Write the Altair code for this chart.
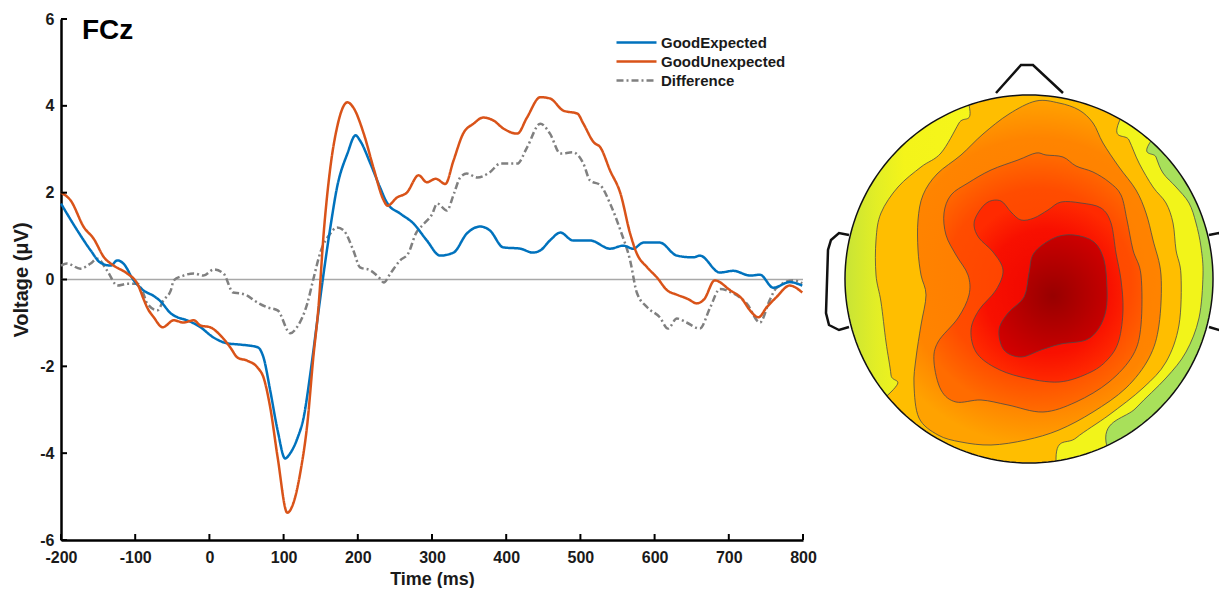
import math
import altair as alt
import pandas as pd

# ---------------- ERP waveforms at FCz (time in ms, voltage in microvolts) ----------------
t_exp = [-200, -178, -160, -147, -133, -124, -116, -102, -89, -75, -66, -52, -43, -30, -12, 5, 24, 42, 65, 73,
         82, 92, 102, 109, 119, 127, 136, 145, 149, 163, 172, 186, 197, 203, 217, 230, 240, 257, 275, 293,
         311, 329, 347, 365, 378, 396, 419, 436, 446, 459, 473, 490, 513, 540, 558, 571, 585, 607, 630, 652,
         661, 688, 706, 729, 742, 760, 782, 799]
v_exp = [1.75, 1.13, 0.67, 0.39, 0.32, 0.44, 0.37, -0.02, -0.25, -0.38, -0.50, -0.78, -0.87, -0.94, -1.10, -1.33, -1.47, -1.50, -1.56, -1.80,
         -2.56, -3.48, -4.12, -4.00, -3.64, -3.18, -2.17, -1.00, -0.48, 1.20, 2.12, 2.90, 3.32, 3.20, 2.67, 2.12, 1.75, 1.52, 1.29, 0.90,
         0.55, 0.62, 1.06, 1.22, 1.13, 0.74, 0.71, 0.62, 0.67, 0.90, 1.08, 0.90, 0.90, 0.71, 0.78, 0.71, 0.85, 0.85, 0.55, 0.51,
         0.55, 0.16, 0.20, 0.09, 0.11, -0.19, -0.06, -0.14]

t_unexp = [-200, -187, -169, -156, -142, -129, -111, -97, -88, -84, -75, -63, -48, -35, -21, -12, 1, 15, 28, 38,
           51, 65, 73, 82, 92, 105, 113, 123, 132, 140, 147, 154, 163, 172, 186, 194, 208, 221, 235, 240,
           253, 266, 282, 293, 305, 318, 329, 342, 356, 369, 383, 396, 415, 428, 446, 459, 477, 496, 504, 518,
           527, 540, 554, 567, 576, 590, 603, 617, 630, 645, 657, 667, 681, 702, 718, 728, 740, 751, 764, 782, 799]
v_unexp = [2.00, 1.82, 1.20, 0.94, 0.51, 0.32, 0.14, -0.10, -0.48, -0.64, -0.87, -1.10, -0.94, -0.99, -0.94, -1.06, -1.10, -1.29, -1.56, -1.80,
           -1.87, -2.03, -2.26, -2.95, -4.10, -5.37, -5.16, -4.40, -3.32, -1.80, -0.64, 1.06, 2.58, 3.50, 4.08, 3.96, 3.36, 2.58, 1.82, 1.70,
           1.89, 2.00, 2.40, 2.24, 2.32, 2.20, 2.74, 3.36, 3.59, 3.73, 3.66, 3.48, 3.36, 3.73, 4.20, 4.17, 3.89, 3.82, 3.59, 3.16,
           3.04, 2.51, 1.98, 1.06, 0.60, 0.28, 0.05, -0.25, -0.35, -0.45, -0.55, -0.45, -0.02, -0.25, -0.45, -0.70, -0.87, -0.64, -0.41, -0.14, -0.30]

t_diff = [-200, -192, -174, -160, -151, -138, -124, -111, -97, -89, -84, -70, -62, -52, -48, -35, -21, -8, 6, 19,
          32, 42, 51, 60, 78, 92, 109, 118, 132, 140, 150, 163, 172, 181, 194, 203, 217, 230, 235, 244,
          257, 268, 278, 290, 300, 307, 320, 330, 338, 347, 361, 378, 392, 415, 428, 446, 459, 473, 490, 504,
          513, 527, 540, 554, 567, 576, 590, 607, 618, 630, 643, 661, 675, 688, 706, 724, 742, 755, 764, 787, 799]
v_diff = [0.32, 0.37, 0.25, 0.37, 0.48, 0.21, -0.14, -0.10, -0.10, -0.32, -0.55, -0.71, -0.48, -0.25, -0.02, 0.09, 0.14, 0.09, 0.23, 0.14,
          -0.30, -0.32, -0.37, -0.48, -0.64, -0.71, -1.24, -1.10, -0.55, 0.00, 0.65, 1.06, 1.20, 1.13, 0.67, 0.28, 0.21, 0.02, -0.07, 0.14,
          0.44, 0.60, 1.05, 1.30, 1.50, 1.75, 1.59, 2.00, 2.35, 2.44, 2.35, 2.47, 2.67, 2.67, 3.04, 3.59, 3.36, 2.90, 2.93, 2.67,
          2.28, 2.17, 1.75, 1.13, 0.44, -0.30, -0.64, -0.87, -1.13, -0.90, -0.99, -1.13, -0.64, -0.22, -0.32, -0.55, -0.99, -0.48, -0.20, -0.02, -0.09]

series_names = ["GoodExpected", "GoodUnexpected", "Difference"]
series_colors = ["#0072BD", "#D95319", "#808080"]
series_dash = [[1, 0], [1, 0], [7, 3, 2, 3]]
series_width = [2.5, 2.5, 2.0]

x_ticks = [-200, -100, 0, 100, 200, 300, 400, 500, 600, 700, 800]
y_ticks = [-6, -4, -2, 0, 2, 4, 6]
channel_label = "FCz"

# ---------------- scalp map: contour lines (offsets from head centre, head radius = 184, y up) ----------------
HEAD_R = 184.0
# open contours that meet the head outline
c1_left = [(-60, 174), (-70, 156), (-88, 126), (-108, 112), (-131, 92), (-148, 66), (-153, 39), (-153, 4),
           (-148, -23), (-143, -63), (-138, -96), (-138, -113)]
line_c = [(90, 157), (100, 139), (110, 116), (124, 92), (137, 76), (144, 56), (147, 29), (152, 4), (150, -46),
          (137, -83), (114, -109), (80, -136), (47, -159), (27, -179)]
line_d = [(122, 138), (127, 122), (134, 106), (147, 92), (160, 76), (167, 56), (172, 32), (174, 4), (170, -39),
          (157, -73), (137, -99), (107, -129), (77, -163)]
# closed contours
c2 = [(7, 178), (30, 176), (50, 169), (64, 156), (74, 136), (90, 112), (107, 89), (117, 66), (124, 39), (132, 4),
      (130, -46), (120, -79), (97, -109), (64, -133), (30, -151), (-3, -161), (-38, -166), (-68, -163), (-91, -156),
      (-110, -139), (-115, -106), (-113, -79), (-108, -46), (-103, -16), (-108, 4), (-111, 29), (-111, 59), (-106, 84),
      (-92, 105), (-68, 124), (-46, 145), (-20, 165)]
c3 = [(7, 126), (17, 124), (34, 122), (47, 113), (64, 107), (80, 97), (92, 84), (98, 59), (104, 29), (112, 4),
      (112, -46), (104, -76), (80, -103), (47, -123), (14, -133), (-21, -126), (-48, -121), (-73, -123), (-88, -111),
      (-95, -83), (-91, -63), (-71, -39), (-60, -16), (-61, 4), (-73, 24), (-83, 44), (-85, 66), (-78, 84), (-61, 96),
      (-38, 109), (-11, 119)]
c4 = [(-51, 66), (-41, 77), (-28, 78), (-18, 67), (-8, 59), (5, 61), (19, 69), (32, 77), (52, 76), (72, 71), (82, 56),
      (87, 26), (92, -1), (94, -31), (90, -61), (80, -79), (62, -93), (30, -103), (-8, -98), (-35, -88), (-53, -73),
      (-58, -51), (-50, -31), (-33, -11), (-26, 9), (-36, 27), (-50, 41), (-55, 54)]
c5 = [(5, 26), (25, 41), (45, 44), (65, 37), (75, 19), (78, -9), (77, -31), (70, -49), (57, -61), (32, -65), (12, -71),
      (-8, -78), (-25, -71), (-30, -51), (-21, -34), (-5, -18), (0, 6)]
nose = [(-33, 186), (-8, 214), (4, 214), (34, 186)]
ear_left = [(-180, 44), (-190, 46), (-198, 39), (-201, 29), (-203, -34), (-200, -46), (-190, -51), (-180, -48)]
ear_right = [(180, 44), (190, 46), (198, 39), (201, 29), (203, -34), (200, -46), (190, -51), (180, -48)]

map_colors = {
    "outside": "#a8e05a",
    "above_d": "#f2f41a",
    "above_c": "#ffbe00",
}
grad_left = [(0, "#c2e23a"), (0.47, "#c8e436"), (0.60, "#e2ee26"), (0.72, "#f4f41a"), (1, "#f6f61a")]
grad_c2 = ["#ff7800", "#ff8400", "#ffa200"]
grad_c3 = ["#ff4000", "#ff4c00", "#ff6c00"]
grad_c4 = ["#ee0600", "#f81000", "#ff2a00"]
grad_c5 = ["#980000", "#d40000"]

# ---------------- left panel: waveforms ----------------
rows = []
for name, ts, vs in (("Difference", t_diff, v_diff), ("GoodExpected", t_exp, v_exp),
                     ("GoodUnexpected", t_unexp, v_unexp)):
    rows += [{"series": name, "t": t, "v": v} for t, v in zip(ts, vs)]
wave = pd.DataFrame(rows)

W, H = 742, 521
FONT = "Liberation Sans"
TXT = "#1a1a1a"
xs = alt.Scale(domain=[x_ticks[0], x_ticks[-1]], nice=False, zero=False)
ys = alt.Scale(domain=[y_ticks[0], y_ticks[-1]], nice=False, zero=False)

x_axis = alt.Axis(values=x_ticks, title="Time (ms)", labelExpr="datum.value + ''", ticks=False, grid=False,
                  domainColor="black", domainWidth=2.5, labelFont=FONT, labelFontSize=16, labelFontWeight="bold",
                  labelColor=TXT, labelPadding=9, labelFlush=False, labelOverlap=False, titleFont=FONT,
                  titleFontSize=18, titleFontWeight="bold", titleColor=TXT, titlePadding=3,
                  minExtent=27, maxExtent=27)
y_axis = alt.Axis(values=y_ticks, title="Voltage (μV)", labelExpr="datum.value + ''", ticks=False, grid=False,
                  domainColor="black", domainWidth=2.5, labelFont=FONT, labelFontSize=16, labelFontWeight="bold",
                  labelColor=TXT, labelPadding=7, labelFlush=False, labelOverlap=False, titleFont=FONT,
                  titleFontSize=20, titleFontWeight="bold", titleColor=TXT, titlePadding=8,
                  minExtent=22, maxExtent=22)

legend = alt.Legend(title=None, orient="none", legendX=568, legendY=16, symbolType="M-4,0L4,0",
                    symbolSize=100, symbolStrokeWidth=2.5, labelFont=FONT, labelFontSize=15,
                    labelFontWeight="bold", labelColor=TXT, labelOffset=17, rowPadding=3, padding=0)

zero = alt.Chart(pd.DataFrame({"v": [0]})).mark_rule(color="#A8A8A8", strokeWidth=1.5).encode(
    y=alt.Y("v:Q", scale=ys, axis=y_axis))

lines = alt.Chart(wave).mark_line(interpolate="monotone", strokeCap="butt").encode(
    x=alt.X("t:Q", scale=xs, axis=x_axis),
    y=alt.Y("v:Q", scale=ys, axis=y_axis),
    color=alt.Color("series:N", scale=alt.Scale(domain=series_names, range=series_colors), legend=legend),
    strokeDash=alt.StrokeDash("series:N", scale=alt.Scale(domain=series_names, range=series_dash), legend=legend),
    strokeWidth=alt.StrokeWidth("series:N", scale=alt.Scale(domain=series_names, range=series_width), legend=None),
)

xt = alt.Chart(pd.DataFrame({"t": x_ticks})).mark_rule(color="black", strokeWidth=2).encode(
    x=alt.X("t:Q", scale=xs, axis=x_axis), y=alt.value(H), y2=alt.value(H - 6))
yt = alt.Chart(pd.DataFrame({"v": y_ticks})).mark_rule(color="black", strokeWidth=2).encode(
    y=alt.Y("v:Q", scale=ys, axis=y_axis), x=alt.value(0), x2=alt.value(6))

fcz = alt.Chart(pd.DataFrame({"label": [channel_label]})).mark_text(
    align="left", baseline="middle", font=FONT, fontSize=28, fontWeight="bold", color="black"
).encode(text="label:N", x=alt.value(21), y=alt.value(12))

left = alt.layer(zero, lines, xt, yt, fcz).properties(width=W, height=H)

# ---------------- right panel: scalp map ----------------
TW = 403
mx = alt.Scale(domain=[-213, TW - 213], nice=False, zero=False)
my = alt.Scale(domain=[-261, 260], nice=False, zero=False)


def ang(p):
    return math.atan2(p[1], p[0])


def far_arc(a0, a1, k=1.6, n=40):
    while a1 <= a0:
        a1 += 2 * math.pi
    return [(k * HEAD_R * math.cos(a0 + (a1 - a0) * i / n), k * HEAD_R * math.sin(a0 + (a1 - a0) * i / n))
            for i in range(n + 1)]


circle = [(HEAD_R * math.cos(2 * math.pi * i / 180), HEAD_R * math.sin(2 * math.pi * i / 180)) for i in range(180)]
above_d = list(reversed(line_d)) + far_arc(ang(line_d[0]), ang(line_d[-1]))
left_strip = list(reversed(c1_left)) + far_arc(ang(c1_left[0]), ang(c1_left[-1]))
above_c = (list(c1_left) + far_arc(ang(c1_left[-1]), ang(line_c[-1])) + list(reversed(line_c))
           + far_arc(ang(line_c[0]), ang(c1_left[0])))
# white surround with a circular hole (keyhole outline)
hole = [(HEAD_R * math.cos(math.pi - 2 * math.pi * i / 180), HEAD_R * math.sin(math.pi - 2 * math.pi * i / 180))
        for i in range(181)]
mask = hole + [(-300, 0), (-300, -320), (300, -320), (300, 320), (-300, 320), (-300, 0)]


def shape_layer(pts, interp, **kw):
    df = pd.DataFrame({"x": [float(p[0]) for p in pts], "y": [float(p[1]) for p in pts], "i": list(range(len(pts)))})
    return alt.Chart(df).mark_line(interpolate=interp, clip=True, **kw).encode(
        x=alt.X("x:Q", scale=mx, axis=None), y=alt.Y("y:Q", scale=my, axis=None), order=alt.Order("i:Q"))


def radial(cols, mid):
    stops = [{"offset": 0, "color": cols[0]}]
    if len(cols) == 3:
        stops.append({"offset": mid, "color": cols[1]})
    stops.append({"offset": 1, "color": cols[-1]})
    return {"gradient": "radial", "x1": 0.5, "y1": 0.5, "x2": 0.5, "y2": 0.5, "r1": 0,
            "r2": 0.5 if len(cols) == 3 else 0.6, "stops": stops}


def linear(stops):
    return {"gradient": "linear", "x1": 0, "y1": 0, "x2": 1, "y2": 0,
            "stops": [{"offset": o, "color": c} for o, c in stops]}


CL = dict(stroke="#4a4a4a", strokeWidth=1, strokeOpacity=0.8)
SMOOTH = "cardinal-closed"
topo_layers = [
    shape_layer(circle, "linear-closed", fill=map_colors["outside"], stroke="#a8e05a", strokeWidth=0.5),
    shape_layer(above_d, SMOOTH, fill=map_colors["above_d"], **CL),
    shape_layer(left_strip, SMOOTH, fill=linear(grad_left), strokeWidth=0),
    shape_layer(above_c, SMOOTH, fill=map_colors["above_c"], **CL),
    shape_layer(c2, SMOOTH, fill=radial(grad_c2, 0.78), **CL),
    shape_layer(c3, SMOOTH, fill=radial(grad_c3, 0.72), **CL),
    shape_layer(c4, SMOOTH, fill=radial(grad_c4, 0.68), **CL),
    shape_layer(c5, SMOOTH, fill=radial(grad_c5, 0), **CL),
    shape_layer(mask, "linear-closed", fill="white", stroke="white", strokeWidth=0.5),
    shape_layer(circle, "linear-closed", stroke="#111111", strokeWidth=1.5),
    shape_layer(nose, "linear", stroke="#111111", strokeWidth=2.5),
    shape_layer(ear_left, "linear", stroke="#111111", strokeWidth=2.5),
    shape_layer(ear_right, "linear", stroke="#111111", strokeWidth=2.5),
]
right = alt.layer(*topo_layers).properties(width=TW, height=H)

chart = alt.hconcat(left, right, spacing=13, bounds="flush").properties(
    padding={"left": 11, "top": 11, "right": 0, "bottom": 0}, background="white"
).configure_view(stroke=None)

chart.save("out.html", embed_options={"renderer": "svg", "actions": False})
